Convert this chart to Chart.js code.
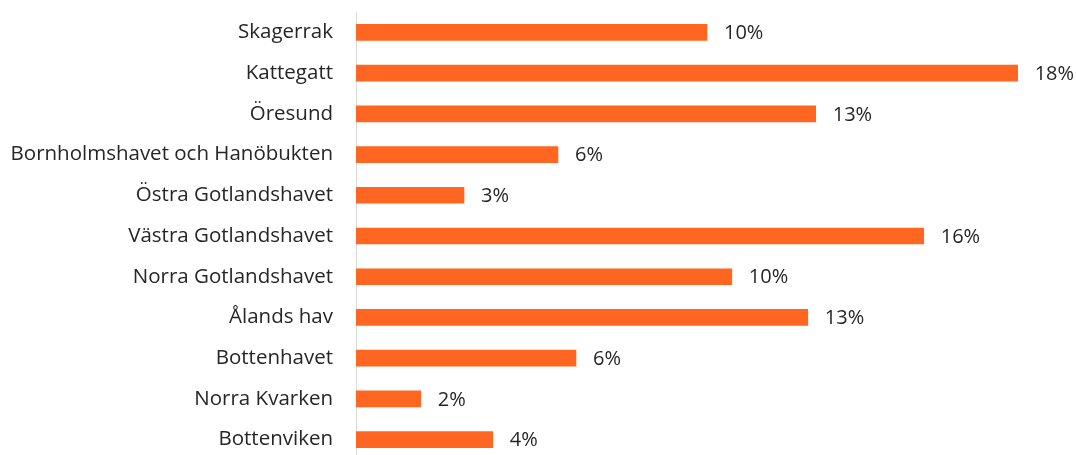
<!DOCTYPE html>
<html>
<head>
<meta charset="utf-8">
<script src="https://cdn.jsdelivr.net/npm/chart.js@4/dist/chart.umd.min.js"></script>
<style>
  html, body { margin: 0; padding: 0; background: #fff; overflow: hidden; }
</style>
</head>
<body>
<canvas id="chart" width="1076" height="461"></canvas>
<script>
// Andel per havsområde (%)
const areas = [
    'Skagerrak', 'Kattegatt', 'Öresund', 'Bornholmshavet och Hanöbukten',
    'Östra Gotlandshavet', 'Västra Gotlandshavet', 'Norra Gotlandshavet',
    'Ålands hav', 'Bottenhavet', 'Norra Kvarken', 'Bottenviken'
];
const shares = [9.75, 18.38, 12.77, 5.61, 3.0, 15.77, 10.44, 12.55, 6.11, 1.8, 3.8];
const axisMax = 20;

const FONT = '"Segoe UI", "Open Sans", sans-serif';
const TEXT = '#262626';

// Percent label after each bar
const barLabels = {
    id: 'barLabels',
    afterDatasetsDraw(chart) {
        const ctx = chart.ctx;
        const meta = chart.getDatasetMeta(0);
        ctx.save();
        ctx.font = '20px ' + FONT;
        ctx.fillStyle = TEXT;
        ctx.textAlign = 'left';
        ctx.textBaseline = 'middle';
        meta.data.forEach((bar, i) => {
            ctx.fillText(Math.round(shares[i]) + '%', bar.x + 17, bar.y + 1);
        });
        ctx.restore();
    }
};

new Chart(document.getElementById('chart'), {
    type: 'bar',
    data: {
        labels: areas,
        datasets: [{
            data: shares,
            backgroundColor: '#FF6622',
            barThickness: 16
        }]
    },
    options: {
        indexAxis: 'y',
        responsive: false,
        animation: false,
        layout: { padding: { top: 12, right: 0, bottom: 1, left: 0 } },
        plugins: {
            legend: { display: false },
            tooltip: { enabled: false }
        },
        scales: {
            x: {
                display: false,
                min: 0,
                max: axisMax
            },
            y: {
                afterFit(scale) {
                    // fixed label column, no extra room above/below the bars
                    scale.width = 356;
                    scale.paddingTop = 0;
                    scale.paddingBottom = 0;
                },
                grid: { display: false, drawTicks: false },
                border: { display: true, color: '#d9d9d9', width: 1 },
                ticks: {
                    padding: 23,
                    color: TEXT,
                    font: { family: FONT, size: 20.5 }
                }
            }
        }
    },
    plugins: [barLabels]
});
</script>
</body>
</html>
